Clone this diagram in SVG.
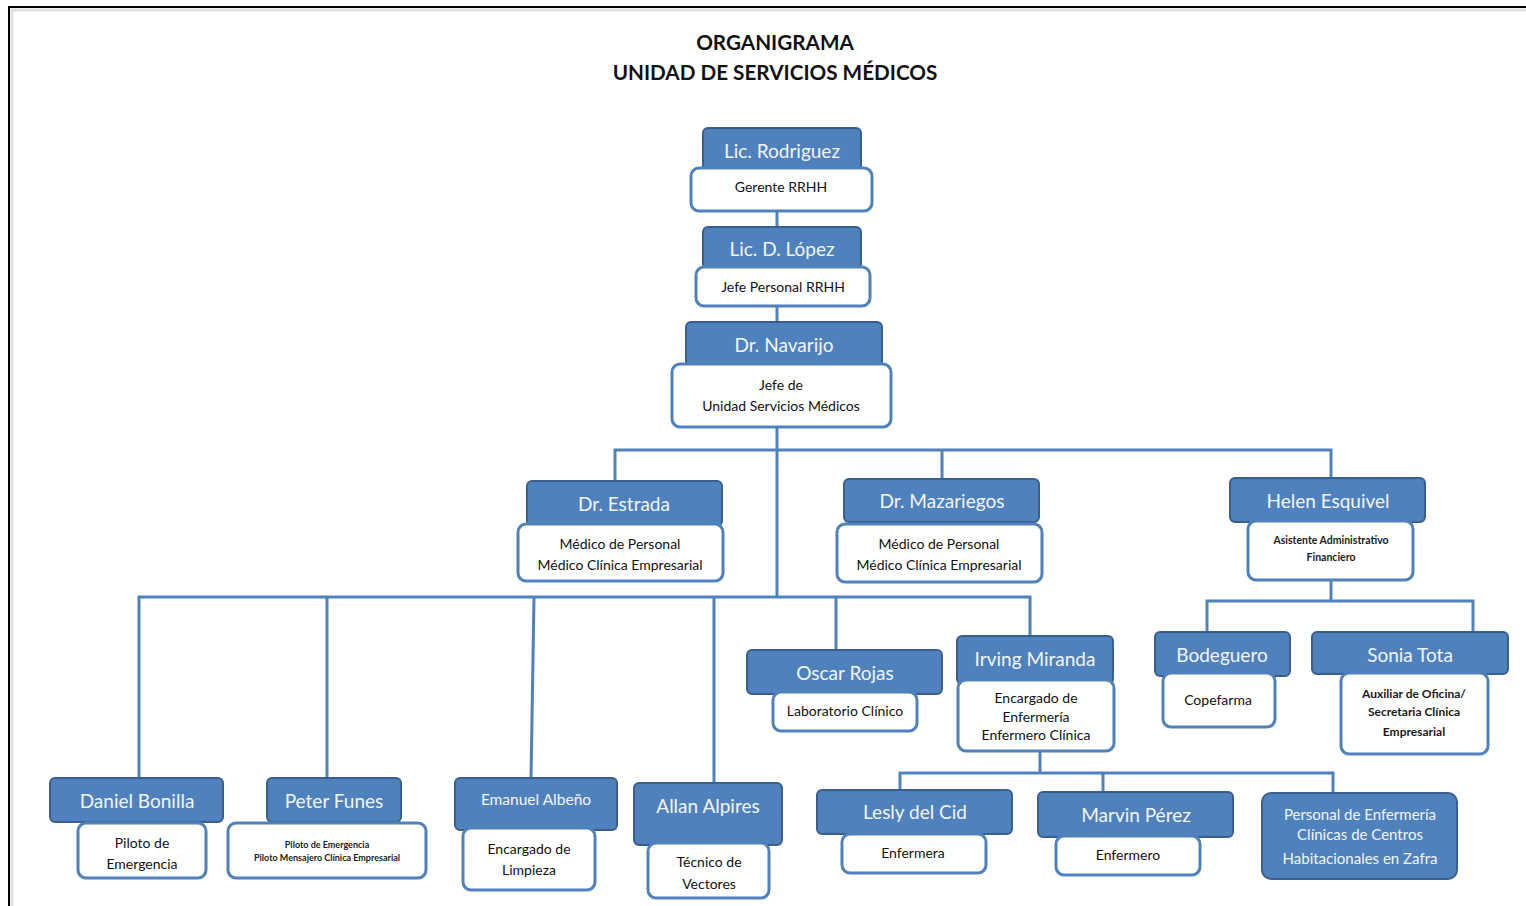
<svg xmlns="http://www.w3.org/2000/svg" width="1526" height="906" viewBox="0 0 1526 906">
<style>
.nm{fill:#4F81BD;stroke:#3A5F8F;stroke-width:2}
.rl{fill:#FFFFFF;stroke:#4F81BD;stroke-width:3}
.nt{font-family:Lato,"Open Sans",sans-serif;font-size:19px;fill:#F2F5FA;text-anchor:middle}
.rt{font-family:Lato,"Open Sans",sans-serif;font-size:14px;fill:#111111;text-anchor:middle}
.st{font-family:Lato,"Open Sans",sans-serif;font-size:10.5px;font-weight:bold;fill:#1A1A1A;text-anchor:middle}
.xt{font-family:Lato,"Open Sans",sans-serif;font-size:9px;font-weight:bold;fill:#1A1A1A;text-anchor:middle}
.ti{font-family:Lato,"Open Sans",sans-serif;font-size:20.7px;font-weight:bold;fill:#111;text-anchor:middle}
.cn{fill:none;stroke:#4F81BD;stroke-width:3}
</style>
<rect x="0" y="0" width="1526" height="906" fill="#FFFFFF"/>
<path d="M9 906 V7 H1526" fill="none" stroke="#000" stroke-width="2"/>
<path d="M12 906 V10 H1526" fill="none" stroke="#E0E0E0" stroke-width="3"/>
<g id="title">
<text class="ti" x="775" y="50">ORGANIGRAMA</text>
<text class="ti" x="775" y="80">UNIDAD DE SERVICIOS MÉDICOS</text>
</g>
<g id="connectors">
<path class="cn" d="M777 211 V228 M777 306 V323 M777 427 V597"/>
<path class="cn" d="M615 481 V450 H1331 V478 M942 450 V479"/>
<path class="cn" d="M1331 580 V601 M1207 632 V601 H1473 V632"/>
<path class="cn" d="M139 778 V597 H1030 V636 M327 597 V778 M534 597 L531 780 M714 597 V783 M836 597 V650"/>
<path class="cn" d="M1040 751 V773 M900 790 V773 H1333 V795 M1103 773 V792"/>
</g>
<g id="n-rodriguez">
<rect class="nm" x="703" y="128" width="158" height="43" rx="5"/>
<text class="nt" x="782" y="158">Lic. Rodriguez</text>
<rect class="rl" x="691" y="168" width="181" height="43" rx="8"/>
<text class="rt" x="781" y="192">Gerente RRHH</text>
</g>
<g id="n-lopez">
<rect class="nm" x="703" y="227" width="158" height="42" rx="5"/>
<text class="nt" x="782" y="256">Lic. D. López</text>
<rect class="rl" x="696" y="267" width="174" height="39" rx="8"/>
<text class="rt" x="783" y="292">Jefe Personal RRHH</text>
</g>
<g id="n-navarijo">
<rect class="nm" x="686" y="322" width="196" height="45" rx="5"/>
<text class="nt" x="784" y="352">Dr. Navarijo</text>
<rect class="rl" x="672" y="364" width="219" height="63" rx="8"/>
<text class="rt" x="781" y="390">Jefe de</text>
<text class="rt" x="781" y="411">Unidad Servicios Médicos</text>
</g>
<g id="n-estrada">
<rect class="nm" x="527" y="481" width="195" height="45" rx="5"/>
<text class="nt" x="624" y="511">Dr. Estrada</text>
<rect class="rl" x="518" y="524" width="205" height="57" rx="8"/>
<text class="rt" x="620" y="549">Médico de Personal</text>
<text class="rt" x="620" y="570">Médico Clínica Empresarial</text>
</g>
<g id="n-mazariegos">
<rect class="nm" x="844" y="479" width="195" height="43" rx="5"/>
<text class="nt" x="942" y="508">Dr. Mazariegos</text>
<rect class="rl" x="837" y="524" width="205" height="58" rx="8"/>
<text class="rt" x="939" y="549">Médico de Personal</text>
<text class="rt" x="939" y="570">Médico Clínica Empresarial</text>
</g>
<g id="n-esquivel">
<rect class="nm" x="1230" y="478" width="195" height="44" rx="5"/>
<text class="nt" x="1328" y="508">Helen Esquivel</text>
<rect class="rl" x="1248" y="521" width="165" height="59" rx="8"/>
<text class="st" x="1331" y="544">Asistente Administrativo</text>
<text class="st" x="1331" y="561">Financiero</text>
</g>
<g id="n-bodeguero">
<rect class="nm" x="1155" y="632" width="135" height="44" rx="5"/>
<text class="nt" x="1222" y="662">Bodeguero</text>
<rect class="rl" x="1163" y="673" width="112" height="54" rx="8"/>
<text class="rt" x="1218" y="705">Copefarma</text>
</g>
<g id="n-tota">
<rect class="nm" x="1312" y="632" width="196" height="42" rx="5"/>
<text class="nt" x="1410" y="662">Sonia Tota</text>
<rect class="rl" x="1341" y="673" width="147" height="81" rx="8"/>
<text class="st" x="1414" y="698" style="font-size:12px">Auxiliar de Oficina/</text>
<text class="st" x="1414" y="716" style="font-size:12px">Secretaria Clínica</text>
<text class="st" x="1414" y="736" style="font-size:12px">Empresarial</text>
</g>
<g id="n-rojas">
<rect class="nm" x="747" y="650" width="195" height="44" rx="5"/>
<text class="nt" x="845" y="680">Oscar Rojas</text>
<rect class="rl" x="773" y="692" width="144" height="39" rx="8"/>
<text class="rt" x="845" y="716">Laboratorio Clínico</text>
</g>
<g id="n-miranda">
<rect class="nm" x="957" y="636" width="156" height="48" rx="5"/>
<text class="nt" x="1035" y="666">Irving Miranda</text>
<rect class="rl" x="958" y="680" width="156" height="71" rx="8"/>
<text class="rt" x="1036" y="703">Encargado de</text>
<text class="rt" x="1036" y="722">Enfermería</text>
<text class="rt" x="1036" y="740">Enfermero Clínica</text>
</g>
<g id="n-bonilla">
<rect class="nm" x="50" y="778" width="173" height="44" rx="5"/>
<text class="nt" x="137" y="808">Daniel Bonilla</text>
<rect class="rl" x="78" y="823" width="128" height="55" rx="8"/>
<text class="rt" x="142" y="848">Piloto de</text>
<text class="rt" x="142" y="869">Emergencia</text>
</g>
<g id="n-funes">
<rect class="nm" x="267" y="778" width="134" height="44" rx="5"/>
<text class="nt" x="334" y="808">Peter Funes</text>
<rect class="rl" x="228" y="823" width="198" height="55" rx="8"/>
<text class="xt" x="327" y="848">Piloto de Emergencia</text>
<text class="xt" x="327" y="861">Piloto Mensajero Clínica Empresarial</text>
</g>
<g id="n-albeno">
<rect class="nm" x="455" y="778" width="162" height="52" rx="5"/>
<text class="nt" x="536" y="805" style="font-size:15.5px">Emanuel Albeño</text>
<rect class="rl" x="463" y="828" width="132" height="62" rx="8"/>
<text class="rt" x="529" y="854">Encargado de</text>
<text class="rt" x="529" y="875">Limpieza</text>
</g>
<g id="n-alpires">
<rect class="nm" x="634" y="783" width="148" height="62" rx="5"/>
<text class="nt" x="708" y="813">Allan Alpires</text>
<rect class="rl" x="648" y="843" width="121" height="55" rx="8"/>
<text class="rt" x="709" y="867">Técnico de</text>
<text class="rt" x="709" y="889">Vectores</text>
</g>
<g id="n-cid">
<rect class="nm" x="817" y="790" width="195" height="44" rx="5"/>
<text class="nt" x="915" y="819">Lesly del Cid</text>
<rect class="rl" x="842" y="834" width="144" height="39" rx="8"/>
<text class="rt" x="913" y="858">Enfermera</text>
</g>
<g id="n-perez">
<rect class="nm" x="1038" y="792" width="195" height="45" rx="5"/>
<text class="nt" x="1136" y="822">Marvin Pérez</text>
<rect class="rl" x="1056" y="836" width="144" height="39" rx="8"/>
<text class="rt" x="1128" y="860">Enfermero</text>
</g>
<g id="n-personal">
<rect class="nm" x="1262" y="793" width="195" height="86" rx="9"/>
<text class="nt" x="1360" y="820" style="font-size:15px">Personal de Enfermería</text>
<text class="nt" x="1360" y="840" style="font-size:15px">Clínicas de Centros</text>
<text class="nt" x="1360" y="864" style="font-size:15px">Habitacionales en Zafra</text>
</g>
</svg>
